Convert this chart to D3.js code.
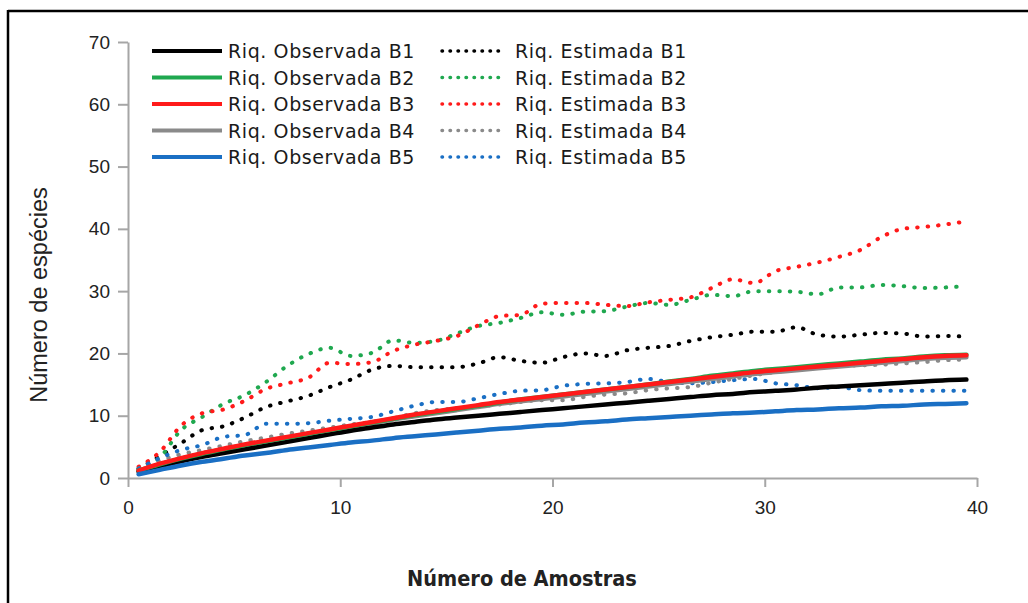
<!DOCTYPE html>
<html>
<head>
<meta charset="utf-8">
<script src="https://cdn.jsdelivr.net/npm/d3@7"></script>
<style>
  html, body { margin: 0; padding: 0; background: #fff; }
  svg { display: block; }
</style>
</head>
<body>
<svg id="chart" width="1028" height="603"></svg>
<script>
// Sample positions along the x axis (number of samples)
const amostras = [0.5, 1.5, 2.5, 3.5, 4.5, 5.5, 6.5, 7.5, 8.5, 9.5,
  10.5, 11.5, 12.5, 13.5, 14.5, 15.5, 16.5, 17.5, 18.5, 19.5,
  20.5, 21.5, 22.5, 23.5, 24.5, 25.5, 26.5, 27.5, 28.5, 29.5,
  30.5, 31.5, 32.5, 33.5, 34.5, 35.5, 36.5, 37.5, 38.5, 39.5];

// Observed richness per area
const obsB1 = [1.0, 1.9, 2.7, 3.4, 4.0, 4.6, 5.2, 5.8, 6.4, 7.0, 7.6, 8.1, 8.6, 9.0, 9.4, 9.7, 10.0, 10.3, 10.6, 10.9,
  11.2, 11.5, 11.8, 12.1, 12.4, 12.7, 13.0, 13.3, 13.5, 13.8, 14.0, 14.2, 14.5, 14.7, 14.9, 15.1, 15.3, 15.5, 15.7, 15.8];
const obsB2 = [1.2, 2.2, 3.1, 3.9, 4.6, 5.3, 5.9, 6.5, 7.1, 7.7, 8.3, 8.9, 9.5, 10.1, 10.6, 11.1, 11.6, 12.1, 12.6, 13.0,
  13.4, 13.8, 14.2, 14.6, 15.0, 15.5, 15.9, 16.4, 16.8, 17.2, 17.5, 17.8, 18.1, 18.4, 18.7, 19.0, 19.2, 19.5, 19.7, 19.8];
const obsB3 = [1.2, 2.3, 3.2, 4.0, 4.7, 5.4, 6.0, 6.6, 7.2, 7.8, 8.4, 9.0, 9.6, 10.2, 10.7, 11.2, 11.7, 12.2, 12.6, 13.0,
  13.4, 13.8, 14.2, 14.6, 15.0, 15.4, 15.8, 16.2, 16.6, 17.0, 17.3, 17.6, 17.9, 18.2, 18.5, 18.8, 19.1, 19.4, 19.6, 19.7];
const obsB4 = [1.1, 2.1, 3.0, 3.8, 4.5, 5.2, 5.8, 6.4, 7.0, 7.6, 8.2, 8.8, 9.4, 9.9, 10.4, 10.9, 11.4, 11.9, 12.3, 12.7,
  13.1, 13.5, 13.9, 14.3, 14.7, 15.1, 15.5, 15.9, 16.3, 16.7, 17.0, 17.3, 17.6, 17.9, 18.2, 18.5, 18.8, 19.1, 19.3, 19.4];
const obsB5 = [0.6, 1.3, 2.0, 2.6, 3.1, 3.6, 4.0, 4.5, 4.9, 5.3, 5.7, 6.0, 6.4, 6.7, 7.0, 7.3, 7.6, 7.9, 8.1, 8.4,
  8.6, 8.9, 9.1, 9.4, 9.6, 9.8, 10.0, 10.2, 10.4, 10.5, 10.7, 10.9, 11.0, 11.2, 11.3, 11.5, 11.6, 11.8, 11.9, 12.0];

// Estimated richness per area
const estB1 = [1.5, 3.5, 5.6, 7.7, 8.3, 9.7, 11.4, 12.3, 13.2, 14.6, 15.8, 17.4, 18.0, 17.8, 17.8, 17.8, 18.4, 19.4, 18.8, 18.5,
  19.4, 20.0, 19.6, 20.5, 20.9, 21.2, 22.0, 22.6, 23.0, 23.5, 23.5, 24.2, 23.0, 22.7, 23.0, 23.3, 23.2, 22.7, 22.8, 22.7];
const estB2 = [1.5, 3.3, 7.7, 9.8, 11.9, 13.3, 15.4, 18.0, 19.9, 20.9, 19.6, 20.1, 22.1, 21.7, 22.0, 23.2, 24.4, 24.9, 25.7, 26.6,
  26.2, 26.7, 26.8, 27.5, 28.1, 27.8, 28.6, 29.4, 29.2, 30.0, 30.0, 29.9, 29.5, 30.6, 30.6, 31.0, 30.8, 30.5, 30.6, 30.8];
const estB3 = [1.8, 4.2, 8.4, 10.4, 11.0, 12.4, 14.3, 15.2, 16.1, 18.5, 18.3, 18.6, 20.4, 21.4, 22.0, 22.8, 24.5, 26.0, 26.2, 28.0,
  28.1, 28.1, 27.8, 27.6, 28.2, 28.6, 29.0, 30.5, 31.9, 31.3, 33.2, 33.9, 34.6, 35.5, 36.6, 38.7, 40.0, 40.3, 40.7, 41.2];
const estB4 = [1.5, 2.8, 3.8, 4.5, 5.2, 5.9, 6.5, 7.1, 7.6, 8.1, 8.6, 9.0, 9.6, 10.4, 10.9, 11.2, 11.5, 11.8, 12.2, 12.5,
  12.5, 13.0, 13.4, 13.6, 14.1, 14.4, 14.6, 15.3, 15.9, 16.5, 17.0, 17.4, 17.8, 18.0, 18.1, 18.2, 18.4, 18.6, 18.9, 19.0];
const estB5 = [1.5, 3.2, 4.5, 5.3, 6.6, 6.9, 8.7, 8.7, 8.8, 9.2, 9.5, 9.8, 10.7, 11.6, 12.2, 12.2, 12.8, 13.5, 14.0, 14.1,
  14.8, 15.1, 15.2, 15.4, 15.9, 15.4, 15.2, 15.4, 15.7, 15.9, 15.2, 14.9, 14.4, 14.6, 14.1, 14.0, 14.0, 14.0, 14.0, 14.0];

const areas = ["B1", "B2", "B3", "B4", "B5"];
const areaColors = ["#000000", "#1fa84f", "#ff1a1a", "#8a8a8a", "#1a6fc4"];
const observed = [obsB1, obsB2, obsB3, obsB4, obsB5];
const estimated = [estB1, estB2, estB3, estB4, estB5];
// Paint order of the observed curves (gray sits beneath the green/red bundle)
const drawOrder = [3, 0, 1, 2, 4];

const xTicks = [0, 10, 20, 30, 40];
const yTicks = [0, 10, 20, 30, 40, 50, 60, 70];

const svg = d3.select("#chart");

// Frame around the figure
svg.append("line").attr("x1", 8).attr("x2", 1028).attr("y1", 11).attr("y2", 11)
  .attr("stroke", "#000").attr("stroke-width", 2.5);
svg.append("line").attr("x1", 8).attr("x2", 8).attr("y1", 10).attr("y2", 603)
  .attr("stroke", "#000").attr("stroke-width", 2.5);

const x = d3.scaleLinear().domain([0, 40]).range([128, 977]);
const y = d3.scaleLinear().domain([0, 70]).range([478, 42]);

const axisColor = "#a6a6a6";
const tickFont = "'Liberation Sans', Arial, sans-serif";

// Y axis
const gy = svg.append("g").attr("transform", `translate(${x(0)},0)`)
  .call(d3.axisLeft(y).tickValues(yTicks).tickSize(10).tickPadding(8).tickSizeOuter(0));
// X axis
const gx = svg.append("g").attr("transform", `translate(0,${y(0)})`)
  .call(d3.axisBottom(x).tickValues(xTicks).tickSize(9).tickPadding(14).tickSizeOuter(0));

[gx, gy].forEach(g => {
  g.select(".domain").attr("stroke", axisColor).attr("stroke-width", 2);
  g.selectAll(".tick line").attr("stroke", axisColor).attr("stroke-width", 2);
  g.selectAll(".tick text").attr("fill", "#222").style("font-family", tickFont).style("font-size", "19px");
});

// Series lines
const line = d3.line().x((d, i) => x(amostras[i])).y(d => y(d)).curve(d3.curveMonotoneX);
const plot = svg.append("g");
areas.forEach((a, k) => {
  plot.append("path").datum(estimated[k])
    .attr("d", line).attr("fill", "none")
    .attr("stroke", areaColors[k]).attr("stroke-width", 4)
    .attr("stroke-dasharray", "0.5 10")
    .attr("stroke-linecap", "round");
});
drawOrder.forEach(k => {
  plot.append("path").datum(observed[k])
    .attr("d", line).attr("fill", "none")
    .attr("stroke", areaColors[k]).attr("stroke-width", 4.5)
    .attr("stroke-linejoin", "round").attr("stroke-linecap", "round");
});

// Legend
const legendFont = "'DejaVu Sans', sans-serif";
const legend = svg.append("g");
areas.forEach((a, k) => {
  const ly = 51 + k * 26.5;
  legend.append("line").attr("x1", 152).attr("x2", 222).attr("y1", ly).attr("y2", ly)
    .attr("stroke", areaColors[k]).attr("stroke-width", 4);
  legend.append("text").attr("x", 228).attr("y", ly + 7)
    .style("font-family", legendFont).style("font-size", "19px")
    .style("letter-spacing", "0.6px").attr("fill", "#1a1a1a")
    .text(`Riq. Observada ${a}`);
  legend.append("line").attr("x1", 442).attr("x2", 506).attr("y1", ly).attr("y2", ly)
    .attr("stroke", areaColors[k]).attr("stroke-width", 3.5)
    .attr("stroke-dasharray", "0.5 7.5").attr("stroke-linecap", "round");
  legend.append("text").attr("x", 515).attr("y", ly + 7)
    .style("font-family", legendFont).style("font-size", "19px")
    .style("letter-spacing", "0.6px").attr("fill", "#1a1a1a")
    .text(`Riq. Estimada ${a}`);
});

// Axis titles
svg.append("text")
  .attr("transform", `translate(47,${295}) rotate(-90)`)
  .attr("text-anchor", "middle")
  .style("font-family", tickFont).style("font-size", "23.5px").attr("fill", "#222")
  .text("Número de espécies");
svg.append("text")
  .attr("x", 522).attr("y", 586)
  .attr("text-anchor", "middle")
  .style("font-family", "'DejaVu Sans Condensed', 'DejaVu Sans', sans-serif")
  .style("font-size", "21.5px").style("font-weight", "bold").attr("fill", "#222")
  .text("Número de Amostras");
</script>
</body>
</html>
